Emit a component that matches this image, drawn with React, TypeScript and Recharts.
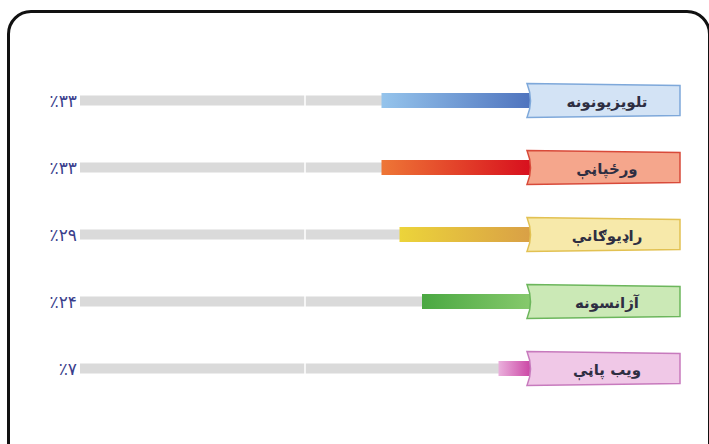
import React from 'react';
import { BarChart, Bar, XAxis, YAxis, Cell, ReferenceLine } from 'recharts';

// Pashto media categories, top to bottom
const categories = ['تلویزیونونه', 'ورځپاڼې', 'راډیوګانې', 'آژانسونه', 'ویب پاڼې'];
const shares = [33, 33, 29, 24, 7];

// bar gradient (left -> right) and label tag colours
const barFrom = ['#95c4ec', '#ee7636', '#ecd43a', '#4aa842', '#eab0dc'];
const barTo = ['#4f74be', '#d8101e', '#d9a046', '#86c96c', '#cc48a6'];
const tagFill = ['#d3e3f5', '#f5a68c', '#f7e9aa', '#cbe9b6', '#f0c8e7'];
const tagStroke = ['#7ea8da', '#d84a3a', '#e2c152', '#6cb65c', '#c77abd'];

const faDigits = '۰۱۲۳۴۵۶۷۸۹';
const toFa = (n: number) => String(n).replace(/\d/g, (d) => faDigits[Number(d)]);

const data = categories.map((name, i) => ({
  name,
  value: shares[i],
  pct: '٪' + toFa(shares[i]),
}));

const TAG_W = 150;
const TAG_H = 30;

const LabelTag = (props: any) => {
  const { x, y, payload } = props;
  const i = categories.indexOf(payload.value);
  const top = y - TAG_H / 2;
  const d = `M${x - 3},${top - 2} L${x + TAG_W},${top} L${x + TAG_W},${top + TAG_H} L${x - 3},${top + TAG_H + 2} Q${x + 4},${y} ${x - 3},${top - 2} Z`;
  return (
    <g>
      <path d={d} fill={tagFill[i]} stroke={tagStroke[i]} strokeWidth={1.5} />
      <text
        x={x + TAG_W / 2 + 2}
        y={y + 6}
        textAnchor="middle"
        fontFamily="'DejaVu Sans', sans-serif"
        fontSize={15}
        fontWeight="bold"
        fill="#2e2e42"
      >
        {payload.value}
      </text>
    </g>
  );
};

const TrackBg = (props: any) => {
  const x = Math.min(props.x, props.x + props.width);
  const w = Math.abs(props.width);
  return <rect x={x} y={props.y + (props.height - 10) / 2} width={w} height={10} fill="#dadada" />;
};

export default function App() {
  return (
    <div style={{ position: 'fixed', left: 0, top: 0, width: 709, height: 444, background: '#fff', overflow: 'hidden' }}>
      <div
        style={{
          position: 'absolute',
          left: 7,
          top: 10,
          width: 698,
          height: 460,
          border: '3px solid #111',
          borderRadius: 24,
        }}
      />
      <div style={{ position: 'absolute', left: 0, top: 0 }}>
        <BarChart
          width={709}
          height={444}
          data={data}
          layout="vertical"
          margin={{ top: 67, right: 0, bottom: 42, left: 0 }}
        >
          <defs>
            {data.map((_, i) => (
              <linearGradient key={i} id={`grad-${i}`} x1="0" y1="0" x2="1" y2="0">
                <stop offset="0%" stopColor={barFrom[i]} />
                <stop offset="100%" stopColor={barTo[i]} />
              </linearGradient>
            ))}
          </defs>
          <XAxis type="number" domain={[0, 100]} reversed hide />
          <YAxis
            yAxisId="pct"
            type="category"
            dataKey="pct"
            orientation="left"
            width={80}
            axisLine={false}
            tickLine={false}
            tickSize={0}
            tickMargin={3}
            tick={{ fill: '#3a3e8c', fontSize: 17, fontFamily: "'DejaVu Sans', sans-serif" }}
          />
          <YAxis
            yAxisId="main"
            type="category"
            dataKey="name"
            orientation="right"
            width={179}
            axisLine={false}
            tickLine={false}
            tickSize={0}
            tickMargin={0}
            tick={<LabelTag />}
          />
          <Bar
            yAxisId="main"
            dataKey="value"
            barSize={15}
            background={TrackBg}
            isAnimationActive={false}
          >
            {data.map((_, i) => (
              <Cell key={i} fill={`url(#grad-${i})`} />
            ))}
          </Bar>
          <ReferenceLine yAxisId="main" x={50} stroke="#ffffff" strokeWidth={1.5} />
        </BarChart>
      </div>
    </div>
  );
}
